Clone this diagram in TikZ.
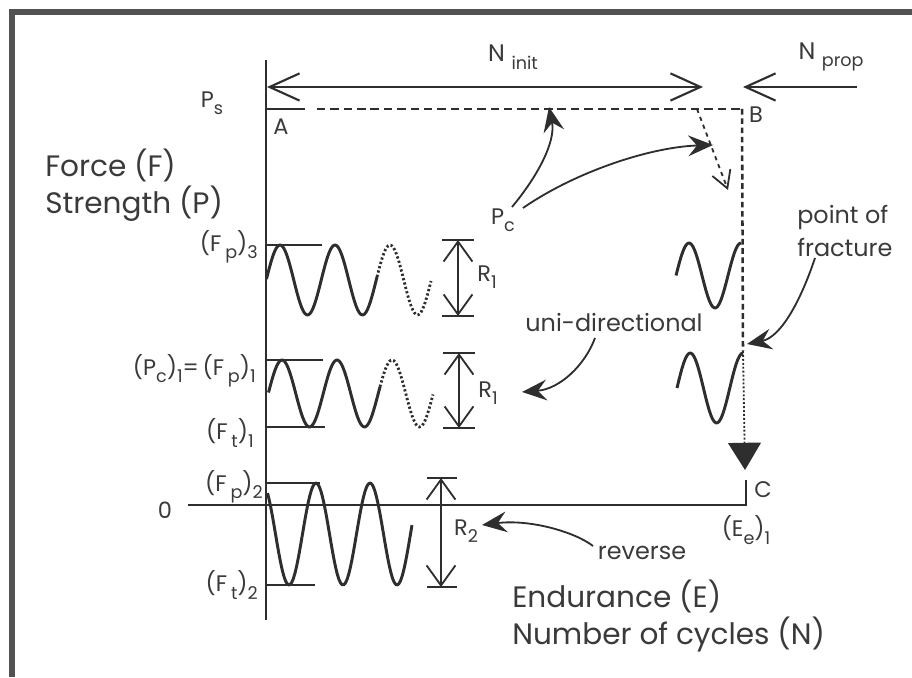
\documentclass[tikz,border=0pt]{standalone}
\usepackage{fontspec}
\setmainfont{Poppins}
\usepackage{xcolor}
\usetikzlibrary{arrows.meta}
\definecolor{inkgray}{HTML}{2E2E2E}
\definecolor{textgray}{HTML}{3A3A3A}
\definecolor{framegray}{HTML}{525252}
\newcommand{\dn}[1]{\raisebox{-0.6ex}{\fontsize{12.5}{13}\selectfont #1}}

\begin{document}
\begin{tikzpicture}[
    x=0.025cm, y=0.025cm,
    axisline/.style={draw=inkgray, line width=2.1pt},
    thinline/.style={draw=inkgray, line width=1.3pt},
    wave/.style={draw=inkgray, line width=2.1pt, line join=round},
    ghost/.style={wave, line width=2pt, dash pattern=on 1.6pt off 1.6pt},
    pathline/.style={draw=inkgray, line width=1.8pt, dash pattern=on 6pt off 3.5pt},
    rangearrow/.style={{Straight Barb[length=0.5cm,width=0.72cm]}-{Straight Barb[length=0.5cm,width=0.72cm]}, thinline},
    spanarrow/.style={thinline, line width=1.5pt},
    pointer/.style={-{Stealth[length=0.62cm,width=0.52cm,inset=0.22cm]}, thinline},
    lbl/.style={text=textgray, font=\fontsize{17}{22.8}\selectfont, inner sep=0pt},
    bigtext/.style={text=textgray, font=\fontsize{21}{26.5}\selectfont, inner sep=0pt, align=left},
    val/.style={text=textgray, font=\fontsize{16}{18}\selectfont, inner sep=0pt}
  ]
  \useasboundingbox (0,0) rectangle (912,677);
  \draw[draw=framegray, line width=3.6pt, line join=miter] (12,0) -- (12,665) -- (912,665);

  % axes
  \coordinate (top) at (266,617);
  \coordinate (origin) at (266,172);
  \coordinate (xstart) at (188,172);
  \coordinate (xend) at (746,172);
  \draw[axisline] (top) -- (266,57);
  \draw[axisline] (xstart) -- (xend) -- (746,197);

  % strength path A - B - C
  \coordinate (A) at (266,568);
  \coordinate (B) at (742,568);
  \coordinate (kink) at (697,568);
  \coordinate (frac) at (743,326);
  \coordinate (C) at (745,207);
  \draw[axisline] (A) -- (305,568);
  \draw[pathline] (317,568) -- (B);
  \draw[pathline, dash pattern=on 4pt off 2.6pt] (B) -- (frac);
  \draw[thinline, dash pattern=on 1.4pt off 1.4pt, -{Triangle[length=0.68cm,width=0.82cm]}] (frac) -- (C);
  \draw[thinline, dashed, -{Straight Barb[length=0.42cm,width=0.48cm]}] (kink) -- (728,487);

  % life spans
  \coordinate (initL) at (267,590);
  \coordinate (initR) at (703,590);
  \coordinate (propR) at (857,590);
  \coordinate (propL) at (743,590);
  \draw[spanarrow, {Straight Barb[length=0.75cm,width=0.68cm]}-{Straight Barb[length=0.75cm,width=0.68cm]}] (initL) -- (initR);
  \draw[spanarrow, -{Straight Barb[length=0.75cm,width=0.68cm]}] (propR) -- (propL);
  \node[lbl] (Ninit) at (513,620) {N\;\dn{init}};
  \node[lbl] (Nprop) at (831,620) {N\;\dn{prop}};

  % level lines
  \draw[thinline] (266,432) -- (322,432);
  \draw[thinline] (266,317) -- (323,317);
  \draw[thinline] (266,250) -- (325,250);
  \draw[thinline] (266,194) -- (320,194);
  \draw[thinline] (266,92) -- (315,92);

  % load cycles
  \draw[wave] plot[domain=266.5:377, samples=70] (\x, {397+35*sin(((\x-266.25)/55)*360)});
  \draw[ghost] plot[domain=377:431, samples=40] (\x, {397+35*sin(((\x-266.25)/55)*360)});
  \draw[wave] plot[domain=268.5:380, samples=70] (\x, {283.5+33.5*sin(((\x-268.25)/55)*360)});
  \draw[ghost] plot[domain=380:433, samples=40] (\x, {283.5+33.5*sin(((\x-268.25)/55)*360)});
  \draw[wave] plot[domain=267.5:412, samples=90] (\x, {143+51*sin(((\x-302.5)/54)*360)});
  \draw[wave] plot[domain=676:741, samples=40] (\x, {401.5+32.5*sin(((\x-676)/52)*360)});
  \draw[wave] plot[domain=677:743, samples=40] (\x, {289+35*sin(((\x-677)/52.8)*360)});

  % ranges
  \draw[thinline] (442,437) -- (474,437);
  \draw[thinline] (442,361) -- (474,361);
  \draw[rangearrow] (458,437) -- (458,361);
  \draw[thinline] (443,324) -- (475,324);
  \draw[thinline] (443,249) -- (475,249);
  \draw[rangearrow] (459,324) -- (459,249);
  \draw[thinline] (427,199) -- (457,199);
  \draw[thinline] (427,90) -- (457,90);
  \draw[rangearrow] (441,199) -- (441,90);
  \node[val] (R1a) at (487,400) {R\dn{1}};
  \node[val] (R1b) at (488,284) {R\dn{1}};
  \node[val] (R2) at (466,146) {R\dn{2}};

  % axis labels
  \node[bigtext, anchor=west] (force) at (45,492) {Force (F)\\Strength (P)};
  \node[bigtext, anchor=west] (endurance) at (512,61) {Endurance (E)\\Number of cycles (N)};
  \node[val] (Ps) at (212,574) {P\dn{s}};
  \node[val] (Alab) at (281,550) {A};
  \node[val] (Blab) at (756,562) {B};
  \node[val] (Clab) at (763,187) {C};
  \node[val] (Ee) at (746,147) {(E\dn{e})\dn{1}};
  \node[val, anchor=east] (Fp3) at (258,430) {(F\,\dn{p})\dn{3}};
  \node[val, anchor=east] (Fp1) at (256,306) {(P\dn{c})\dn{1}=\,(F\,\dn{p})\dn{1}};
  \node[val, anchor=east] (Ft1) at (254,244) {(F\,\dn{t})\dn{1}};
  \node[val, anchor=east] (Fp2) at (263,190) {(F\,\dn{p})\dn{2}};
  \node[val] (zero) at (165,167) {0};
  \node[val, anchor=east] (Ft2) at (258,92) {(F\,\dn{t})\dn{2}};

  % notes
  \node[val] (Pc) at (503,457) {P\dn{c}};
  \coordinate (pcA) at (549,570);
  \coordinate (pcB) at (713,532);
  \draw[pointer] (512,470) .. controls (537,500) and (556,535) .. (pcA);
  \draw[pointer] (523,469) .. controls (575,505) and (650,530) .. (pcB);

  \node[lbl, align=left, anchor=west] (fracture) at (797,446) {point of\\fracture};
  \draw[pointer] (815,419) .. controls (802,380) and (782,340) .. (747,333);

  \node[lbl] (uni) at (614,354) {uni-directional};
  \draw[pointer] (595,339) .. controls (585,312) and (560,288) .. (522,285);

  \node[lbl] (rev) at (642,124) {reverse};
  \draw[pointer] (593,131) .. controls (575,145) and (530,158) .. (482,152);
\end{tikzpicture}
\end{document}
